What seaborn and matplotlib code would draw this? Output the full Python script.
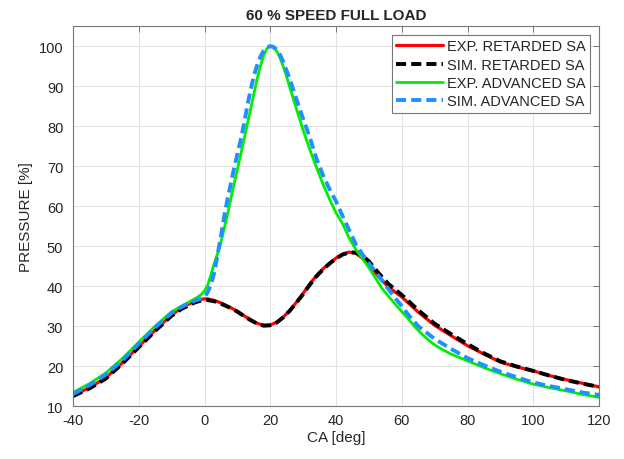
import numpy as np
import pandas as pd
import matplotlib
matplotlib.use("Agg")
import matplotlib.pyplot as plt
import seaborn as sns

# crank angle [deg] / pressure [%]
ret_exp_x = [-40, -35, -30, -25, -20, -15, -10, -7, -5, -3, -1, 0, 1, 3, 5, 8, 10, 12, 14, 16, 18, 20,
             22, 24, 26, 28, 30, 32, 34, 36, 38, 40, 42, 44, 46, 48, 50, 53, 56, 60, 65, 70, 75, 80,
             85, 90, 95, 100, 105, 110, 115, 120]
ret_exp_y = [12.7, 14.6, 17.1, 20.8, 24.9, 29.0, 32.8, 34.6, 35.4, 36.2, 36.7, 36.8, 36.8, 36.4, 35.8,
             34.6, 33.7, 32.6, 31.6, 30.7, 30.2, 30.3, 31.0, 32.3, 34.0, 36.0, 38.2, 40.5, 42.6, 44.3,
             45.7, 47.0, 48.0, 48.5, 48.2, 47.0, 45.3, 42.3, 39.7, 37.3, 33.5, 30.2, 27.6, 25.1, 23.0,
             21.0, 19.8, 18.8, 17.6, 16.6, 15.7, 14.8]

ret_sim_x = [-40, -35, -30, -25, -20, -15, -10, -7, -5, -3, -1, 0, 1, 3, 5, 8, 10, 12, 14, 16, 18, 20,
             22, 24, 26, 28, 30, 32, 34, 36, 38, 40, 42, 44, 46, 48, 50, 53, 56, 60, 65, 70, 75, 80,
             85, 90, 95, 100, 105, 110, 115, 120]
ret_sim_y = [12.5, 14.4, 16.9, 20.6, 24.7, 28.8, 32.6, 34.3, 35.1, 35.9, 36.4, 36.5, 36.5, 36.2, 35.6,
             34.5, 33.6, 32.5, 31.5, 30.6, 30.1, 30.2, 30.9, 32.2, 33.9, 35.9, 38.0, 40.3, 42.4, 44.1,
             45.6, 46.9, 47.9, 48.4, 48.4, 47.6, 46.2, 43.2, 40.5, 37.8, 34.0, 30.6, 28.0, 25.5, 23.2,
             21.2, 19.9, 18.8, 17.6, 16.5, 15.6, 14.8]

adv_exp_x = [-40, -35, -30, -25, -20, -15, -10, -7, -5, -3, -2, -1, 0, 1, 2, 3, 4, 5, 6, 7, 8, 9, 10,
             11, 12, 13, 14, 15, 16, 17, 18, 19, 20, 21, 22, 23, 24, 25, 26, 28, 30, 32, 34, 36, 38, 40,
             42, 44, 46, 48, 50, 52, 54, 56, 58, 60, 62, 64, 66, 68, 70, 72, 75, 80, 85, 90, 95, 100,
             105, 110, 115, 120]
adv_exp_y = [13.4, 15.6, 18.3, 21.9, 26.0, 30.0, 33.6, 35.0, 35.9, 36.8, 37.3, 37.9, 38.8, 40.3, 43.0,
             45.8, 48.2, 51.0, 54.4, 58.0, 61.8, 65.5, 69.2, 72.8, 76.6, 80.4, 84.2, 88.0, 91.8, 95.0,
             97.7, 99.4, 100.0, 99.7, 98.7, 97.0, 94.8, 92.3, 89.5, 84.2, 79.0, 74.2, 69.8, 65.6, 61.8,
             58.3, 55.6, 52.0, 49.2, 46.9, 44.6, 42.0, 39.4, 37.4, 35.5, 33.6, 31.8, 29.8, 28.1, 26.6,
             25.3, 24.3, 23.0, 21.3, 19.6, 18.1, 16.7, 15.5, 14.6, 13.8, 12.9, 12.2]

adv_sim_x = [-40, -35, -30, -25, -20, -15, -10, -7, -5, -3, -2, -1, 0, 1, 2, 3, 4, 5, 6, 7, 8, 9, 10,
             11, 12, 13, 14, 15, 16, 17, 18, 19, 20, 21, 22, 23, 24, 25, 26, 28, 30, 32, 34, 36, 38, 40,
             42, 44, 46, 48, 50, 52, 55, 58, 60, 62, 65, 70, 75, 80, 85, 90, 95, 100, 105, 110, 115, 120]
adv_sim_y = [13.0, 15.2, 17.9, 21.4, 25.6, 29.7, 33.3, 34.8, 35.6, 36.3, 36.6, 36.9, 37.3, 38.5, 40.5,
             43.5, 48.0, 52.5, 57.5, 61.8, 65.6, 69.5, 73.0, 76.5, 80.5, 85.0, 89.0, 92.5, 95.2, 97.4,
             98.9, 99.7, 100.0, 99.8, 99.1, 97.8, 96.0, 93.8, 91.6, 86.6, 81.8, 77.2, 72.0, 67.8, 64.3,
             61.2, 57.5, 54.0, 50.5, 48.0, 45.7, 43.6, 40.3, 37.0, 35.0, 32.8, 30.0, 26.8, 24.3, 22.0,
             20.2, 18.6, 17.2, 15.9, 15.0, 14.2, 13.4, 12.8]

labels = ["EXP. RETARDED SA", "SIM. RETARDED SA", "EXP. ADVANCED SA", "SIM. ADVANCED SA"]
x_ticks = [-40, -20, 0, 20, 40, 60, 80, 100, 120]
y_ticks = [10, 20, 30, 40, 50, 60, 70, 80, 90, 100]

sns.set_theme(style="white")
plt.rcParams["font.family"] = ["Liberation Sans", "DejaVu Sans"]
plt.rcParams["axes.unicode_minus"] = False

fig, ax = plt.subplots(figsize=(6.24, 4.6), dpi=100)
fig.subplots_adjust(left=0.117, right=0.96, bottom=0.115, top=0.941)

dash = (0, (2.6, 1.3))
series = [
    (ret_exp_x, ret_exp_y, "#ff0000", "-", 2.3),
    (ret_sim_x, ret_sim_y, "#000000", dash, 2.8),
    (adv_exp_x, adv_exp_y, "#00ee00", "-", 2.0),
    (adv_sim_x, adv_sim_y, "#1e90ff", dash, 2.8),
]
for (xs, ys, col, ls, lw), lab in zip(series, labels):
    sns.lineplot(x=xs, y=ys, ax=ax, color=col, linestyle=ls, linewidth=lw,
                 label=lab, errorbar=None, sort=False)

ax.set_xlim(-40, 120)
ax.set_ylim(10, 105)
ax.set_xticks(x_ticks)
ax.set_yticks(y_ticks)
ax.grid(True, color="#e3e3e3", linewidth=0.8)
ax.tick_params(direction="in", length=4, width=0.7, colors="#777777",
               labelcolor="#262626", labelsize=10.5, top=True, right=True)
ax.tick_params(axis="y", pad=7)
ax.tick_params(axis="x", pad=5)
for sp in ax.spines.values():
    sp.set_color("#777777")
    sp.set_linewidth(0.8)

ax.set_title("60 % SPEED FULL LOAD", fontsize=11, fontweight="bold", pad=5)
ax.set_xlabel("CA [deg]", fontsize=11, color="#262626", labelpad=2)
ax.set_ylabel("PRESSURE [%]", fontsize=11, color="#262626", labelpad=4)

leg = ax.legend(loc="upper right", fontsize=10.5, handlelength=3.2, handletextpad=0.3,
                borderaxespad=0.6, labelspacing=0.3, fancybox=False, framealpha=1,
                borderpad=0.3)
leg.get_frame().set_edgecolor("#777777")
leg.get_frame().set_linewidth(0.8)

fig.savefig("out.png", dpi=100)
